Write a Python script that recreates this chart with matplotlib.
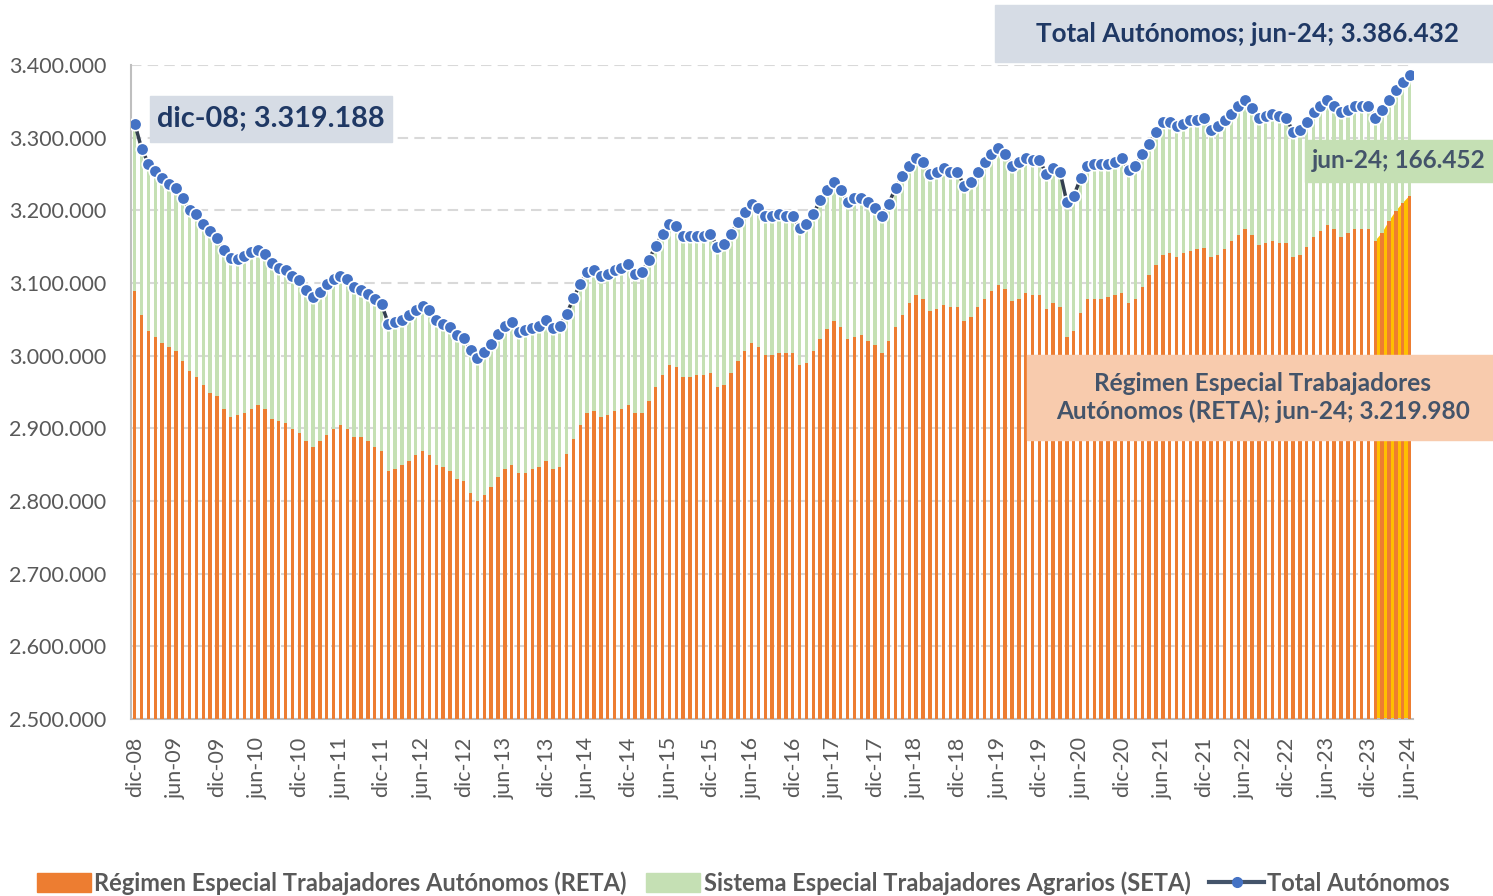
import matplotlib
matplotlib.use('Agg')
import numpy as np
import matplotlib.pyplot as plt
from matplotlib.patches import Rectangle, Patch
from matplotlib.lines import Line2D
from matplotlib.ticker import FuncFormatter

plt.rcParams['font.family'] = ['Lato', 'DejaVu Sans']

# -- monthly values, dic-08 .. jun-24 (thousands of people) --
total = [3319.188,
         3285, 3264, 3254, 3244, 3236, 3231, 3217, 3200, 3195, 3181, 3171, 3162,
         3145, 3134, 3133, 3137, 3143, 3145, 3140, 3127, 3120, 3118, 3110, 3104,
         3090, 3081, 3088, 3098, 3106, 3110, 3105, 3094, 3091, 3085, 3078, 3071,
         3044, 3046, 3049, 3056, 3063, 3068, 3063, 3049, 3044, 3039, 3028, 3024,
         3008, 2997, 3005, 3016, 3030, 3041, 3046, 3032, 3035, 3038, 3041, 3049,
         3038, 3041, 3057, 3079, 3099, 3115, 3118, 3110, 3112, 3118, 3121, 3126,
         3112, 3115, 3132, 3151, 3168, 3181, 3179, 3165, 3165, 3165, 3165, 3168,
         3149, 3154, 3168, 3184, 3198, 3209, 3203, 3192, 3192, 3195, 3192, 3192,
         3176, 3181, 3195, 3214, 3228, 3239, 3228, 3212, 3217, 3217, 3212, 3203,
         3192, 3209, 3231, 3247, 3261, 3272, 3267, 3250, 3253, 3258, 3253, 3253,
         3234, 3239, 3253, 3267, 3278, 3286, 3278, 3261, 3267, 3272, 3269, 3269,
         3250, 3258, 3253, 3211, 3220, 3244, 3261, 3264, 3264, 3264, 3267, 3272,
         3255, 3261, 3278, 3291, 3308, 3322, 3322, 3316, 3319, 3324, 3324, 3327,
         3311, 3316, 3324, 3332, 3344, 3352, 3341, 3327, 3330, 3333, 3330, 3327,
         3308, 3311, 3322, 3335, 3344, 3352, 3344, 3335, 3338, 3344, 3344, 3344,
         3327, 3338, 3352, 3366, 3377, 3386.432]

reta = [3089,
        3056, 3034, 3026, 3017, 3012, 3007, 2993, 2979, 2971, 2960, 2949, 2944,
        2927, 2916, 2918, 2921, 2927, 2932, 2927, 2913, 2910, 2907, 2899, 2894,
        2883, 2875, 2883, 2891, 2899, 2905, 2899, 2888, 2888, 2883, 2874, 2869,
        2841, 2844, 2850, 2855, 2863, 2869, 2863, 2850, 2847, 2841, 2830, 2828,
        2811, 2800, 2808, 2819, 2833, 2844, 2850, 2839, 2839, 2844, 2847, 2855,
        2844, 2847, 2864, 2885, 2905, 2921, 2924, 2916, 2918, 2924, 2927, 2932,
        2921, 2921, 2938, 2957, 2973, 2987, 2984, 2971, 2971, 2973, 2973, 2976,
        2957, 2960, 2976, 2993, 3006, 3017, 3012, 3001, 3001, 3004, 3004, 3004,
        2987, 2990, 3006, 3023, 3037, 3048, 3039, 3023, 3026, 3028, 3020, 3015,
        3004, 3020, 3039, 3056, 3072, 3083, 3078, 3061, 3064, 3070, 3067, 3067,
        3048, 3053, 3067, 3078, 3089, 3097, 3092, 3075, 3078, 3086, 3083, 3083,
        3064, 3072, 3067, 3026, 3034, 3059, 3078, 3078, 3078, 3081, 3083, 3086,
        3072, 3078, 3094, 3111, 3125, 3139, 3141, 3136, 3141, 3144, 3147, 3148,
        3136, 3139, 3147, 3158, 3166, 3174, 3166, 3152, 3155, 3158, 3155, 3155,
        3136, 3139, 3150, 3163, 3172, 3180, 3174, 3163, 3169, 3174, 3174, 3174,
        3158, 3169, 3185, 3199, 3210, 3219.980]

tick_labels = ['dic-08', 'jun-09', 'dic-09', 'jun-10', 'dic-10', 'jun-11', 'dic-11',
               'jun-12', 'dic-12', 'jun-13', 'dic-13', 'jun-14', 'dic-14', 'jun-15',
               'dic-15', 'jun-16', 'dic-16', 'jun-17', 'dic-17', 'jun-18', 'dic-18',
               'jun-19', 'dic-19', 'jun-20', 'dic-20', 'jun-21', 'dic-21', 'jun-22',
               'dic-22', 'jun-23', 'dic-23', 'jun-24']
first_2024 = 181

total = np.array(total) * 1000
reta = np.array(reta) * 1000
seta = total - reta
x = np.arange(len(total))

W, H = 1493, 896
fig = plt.figure(figsize=(W / 100, H / 100), dpi=100)
ax = fig.add_axes([131 / W, 1 - 719 / H, (1413 - 131) / W, (719 - 65) / H])

ORANGE = '#ED7D31'
GREEN = '#C5E0B4'
GOLD = '#FFC000'
BLUE = '#4472C4'
GREY = '#595959'

ax.fill_between(x[first_2024:], 0, reta[first_2024:], color=GOLD, lw=0, zorder=2)
ax.bar(x, reta, width=0.5, color=ORANGE, zorder=3)
ax.bar(x, seta, bottom=reta, width=0.5, color=GREEN, zorder=3)
ax.plot(x, total, color='#333F50', lw=2.5, marker='o', ms=9,
        mfc=BLUE, mec='white', mew=1.2, zorder=5)

ax.set_ylim(2500000, 3400000)
ax.set_xlim(-0.55, 186.5)
ax.set_yticks(np.arange(2500000, 3400001, 100000))
ax.yaxis.set_major_formatter(FuncFormatter(lambda v, p: f'{v:,.0f}'.replace(',', '.')))
ax.set_xticks(x[::6])
ax.set_xticklabels(tick_labels, rotation=90)
ax.tick_params(length=0, labelsize=15.5, labelcolor=GREY)
ax.tick_params(axis='y', pad=18)
ax.tick_params(axis='x', pad=13)
ax.yaxis.grid(True, color='#D9D9D9', lw=1.5, ls=(0, (5, 3)))
ax.set_axisbelow(True)
for s in ['top', 'right']:
    ax.spines[s].set_visible(False)
for s in ['left', 'bottom']:
    ax.spines[s].set_color('#BFBFBF')
    ax.spines[s].set_linewidth(1.5)


def label_box(x0, y0, x1, y1, text, bg, fg, size, tx=None, ha='center'):
    # box in figure pixels (top-left origin)
    fig.patches.append(Rectangle((x0 / W, 1 - y1 / H), (x1 - x0) / W, (y1 - y0) / H,
                                 transform=fig.transFigure, color=bg, zorder=10))
    if tx is None:
        tx = (x0 + x1) / 2
    fig.text(tx / W, 1 - (y0 + y1) / 2 / H, text, ha=ha, va='center', color=fg,
             fontsize=size, fontweight='bold', zorder=11, linespacing=1.2)


label_box(150, 96, 392, 142, 'dic-08; 3.319.188', '#D6DCE5', '#1F3864', 20.8)
label_box(995, 5, 1500, 62, 'Total Autónomos; jun-24; 3.386.432', '#D6DCE5', '#1F3864', 18.7,
          tx=1248)
label_box(1305, 140, 1500, 182, 'jun-24; 166.452', '#C5E0B4', '#44546A', 17.6,
          tx=1312, ha='left')
label_box(1027, 355, 1500, 440,
          'Régimen Especial Trabajadores\nAutónomos (RETA); jun-24; 3.219.980',
          '#F8CBAD', '#44546A', 17.6, tx=1263)

handles = [Patch(color=ORANGE), Patch(color=GREEN),
           Line2D([], [], color='#44546A', lw=3, marker='o', ms=7, mfc=BLUE, mec=BLUE)]
names = ['Régimen Especial Trabajadores Autónomos (RETA)',
         'Sistema Especial Trabajadores Agrarios (SETA)',
         'Total Autónomos']
leg = fig.legend(handles, names, loc='lower left', bbox_to_anchor=(20 / W, -0.017),
                 ncol=3, frameon=False, fontsize=17, handlelength=2.3, handleheight=0.9,
                 handletextpad=0.15, columnspacing=0.8, borderaxespad=0.3)
for t in leg.get_texts():
    t.set_color(GREY)
    t.set_fontweight('bold')

fig.savefig('out.png', dpi=100)
